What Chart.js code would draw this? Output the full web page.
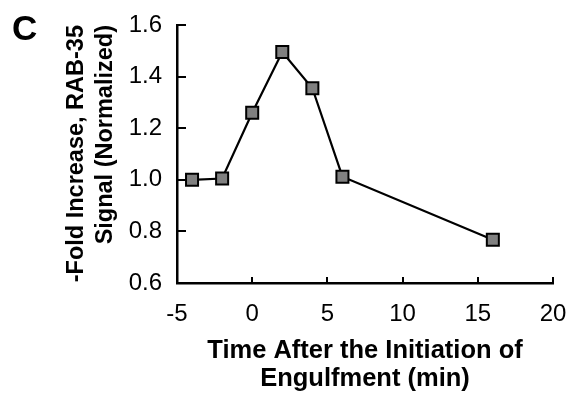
<!DOCTYPE html>
<html>
<head>
<meta charset="utf-8">
<title>RAB-35 signal during engulfment</title>
<script src="https://cdn.jsdelivr.net/npm/chart.js@4/dist/chart.umd.min.js"></script>
<style>
  html, body { margin: 0; padding: 0; background: #fff; }
  #wrap { width: 569px; height: 395px; }
</style>
</head>
<body>
<div id="wrap"><canvas id="chart" width="569" height="395"></canvas></div>
<script>
// ============================================================================
// Data
// ============================================================================

// time relative to initiation of engulfment (min)
const timeMin = [-4, -2, 0, 2, 4, 6, 16];
// normalized RAB-35 signal, fold increase
const foldIncrease = [1.0, 1.005, 1.26, 1.495, 1.355, 1.012, 0.768];

const xTickLabels = ['-5', '0', '5', '10', '15', '20'];
const yTickLabels = ['0.6', '0.8', '1.0', '1.2', '1.4', '1.6'];

const panelLetter = 'C';
const xTitle = ['Time After the Initiation of', 'Engulfment (min)'];
const yTitle = ['-Fold Increase, RAB-35', 'Signal (Normalized)'];

// ============================================================================
// Theme
// ============================================================================

const colors = {
  ink: '#000000',
  marker: '#808080',
};

const fontFamily = "'Liberation Sans', Arial, Helvetica, sans-serif";

// ============================================================================
// Plugins
// ============================================================================

// Excel-style tick marks that point into the plot area
const inwardTicks = {
  id: 'inwardTicks',
  afterDraw(chart) {
    const { ctx, chartArea, scales } = chart;
    ctx.save();
    ctx.strokeStyle = colors.ink;
    ctx.lineWidth = 2;
    ctx.beginPath();
    scales.y.ticks.forEach((t) => {
      const py = Math.round(scales.y.getPixelForValue(t.value));
      ctx.moveTo(chartArea.left, py);
      ctx.lineTo(chartArea.left + 9, py);
    });
    scales.x.ticks.forEach((t) => {
      const px = Math.round(scales.x.getPixelForValue(t.value));
      ctx.moveTo(px, chartArea.bottom);
      ctx.lineTo(px, chartArea.bottom - 6);
    });
    ctx.stroke();
    ctx.restore();
  },
};

// panel letter in the top left corner
const panelLabel = {
  id: 'panelLabel',
  afterDraw(chart) {
    const { ctx } = chart;
    ctx.save();
    ctx.fillStyle = colors.ink;
    ctx.font = `bold 35px ${fontFamily}`;
    ctx.textAlign = 'left';
    ctx.textBaseline = 'alphabetic';
    ctx.fillText(panelLetter, 12, 40);
    ctx.restore();
  },
};

// ============================================================================
// Chart
// ============================================================================

const ctx = document.getElementById('chart').getContext('2d');

new Chart(ctx, {
  type: 'line',
  data: {
    datasets: [
      {
        data: timeMin.map((t, i) => ({ x: t, y: foldIncrease[i] })),
        borderColor: colors.ink,
        borderWidth: 2.2,
        tension: 0,
        pointStyle: 'rect',
        pointRadius: 8.5,
        pointBackgroundColor: colors.marker,
        pointBorderColor: colors.ink,
        pointBorderWidth: 2,
      },
    ],
  },
  options: {
    responsive: false,
    animation: false,
    events: [],
    layout: {
      padding: { top: 25, right: 16, bottom: 0, left: 0 },
    },
    plugins: {
      legend: { display: false },
      tooltip: { enabled: false },
    },
    scales: {
      x: {
        type: 'linear',
        min: -5,
        max: 20,
        afterFit(scale) {
          // fixed box; let the layout padding decide the plot edges
          scale.height = 112;
          scale.paddingLeft = 0;
          scale.paddingRight = 0;
        },
        ticks: {
          stepSize: 5,
          color: colors.ink,
          padding: 17,
          font: { family: fontFamily, size: 24 },
          callback: (value, index) => xTickLabels[index],
        },
        grid: { display: false, drawTicks: false },
        border: { display: true, color: colors.ink, width: 2.5 },
        title: {
          display: true,
          text: xTitle,
          color: colors.ink,
          padding: { top: 0, bottom: 2 },
          font: { family: fontFamily, size: 25.5, weight: 'bold', lineHeight: 1.1 },
        },
      },
      y: {
        min: 0.6,
        max: 1.6,
        afterFit(scale) {
          scale.width = 177;
          scale.paddingTop = 0;
          scale.paddingBottom = 0;
        },
        ticks: {
          stepSize: 0.2,
          color: colors.ink,
          padding: 15,
          font: { family: fontFamily, size: 24 },
          callback: (value, index) => yTickLabels[index],
        },
        grid: { display: false, drawTicks: false },
        border: { display: true, color: colors.ink, width: 2.5 },
        title: {
          display: true,
          text: yTitle,
          align: 'end',
          color: colors.ink,
          padding: { top: 62, bottom: 0 },
          font: { family: fontFamily, size: 23.5, weight: 'bold', lineHeight: 1.23 },
        },
      },
    },
  },
  plugins: [inwardTicks, panelLabel],
});
</script>
</body>
</html>
